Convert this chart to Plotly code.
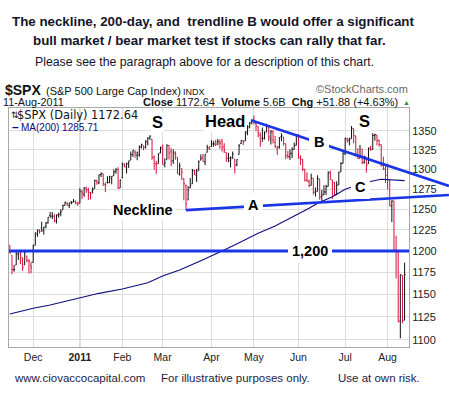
import math
import pandas as pd
import plotly.graph_objects as go

# ---------------- data ----------------
holidays = ["2010-11-25", "2010-12-24", "2011-01-17", "2011-02-21",
            "2011-04-22", "2011-05-30", "2011-07-04"]
dates = [d.strftime("%Y-%m-%d") for d in pd.bdate_range("2010-11-15", "2011-08-11")
         if d.strftime("%Y-%m-%d") not in holidays]

opens = [
    1200.44, 1194.79, 1178.33, 1183.75, 1196.12, 1198.07, 1192.51, 1183.70, 1194.16, 1189.08, 1182.96,
    1186.60, 1206.81, 1219.93, 1223.87, 1227.25, 1225.02, 1230.14, 1233.85, 1242.52, 1241.84, 1241.58,
    1236.34, 1243.63, 1245.76, 1249.43, 1254.94, 1257.53, 1254.66, 1259.10, 1258.78, 1259.44, 1256.76,
    1257.62, 1272.95, 1268.78, 1276.29, 1274.41, 1270.84, 1272.58, 1275.65, 1285.78, 1282.90, 1293.22,
    1294.52, 1280.85, 1283.63, 1283.29, 1288.17, 1291.97, 1297.51, 1299.63, 1276.50,
    1289.14, 1305.91, 1302.77, 1307.01, 1311.85, 1318.76, 1322.48, 1318.13, 1318.66, 1328.73, 1330.43,
    1328.98, 1334.37, 1340.38, 1338.91, 1315.44, 1307.09, 1307.34, 1321.61,
    1328.64, 1305.47, 1312.37, 1330.73, 1322.72, 1311.05, 1319.92, 1315.72, 1293.43, 1301.19, 1288.46,
    1279.46, 1261.61, 1276.71, 1281.65, 1298.29, 1292.19, 1300.61, 1311.80, 1315.45, 1309.37, 1321.89, 1327.44,
    1329.48, 1333.56, 1332.03, 1335.94, 1334.82, 1336.16, 1329.01, 1321.96, 1314.03, 1311.13, 1314.54,
    1313.35, 1305.99, 1319.12, 1333.23, 1337.14, 1336.75, 1348.43, 1353.86, 1360.14,
    1365.21, 1359.76, 1355.90, 1344.16, 1340.24, 1340.20, 1348.34, 1354.51, 1339.39, 1348.69, 1334.77,
    1326.10, 1328.54, 1342.40, 1342.00, 1333.07, 1317.70, 1316.36, 1320.64, 1325.69, 1331.10,
    1345.20, 1314.55, 1312.94, 1300.26, 1286.31, 1284.63, 1279.63, 1288.60, 1271.31, 1272.22, 1287.87,
    1265.53, 1268.58, 1271.50, 1278.40, 1295.48, 1286.60, 1283.04, 1268.44, 1280.21, 1296.85, 1307.64,
    1320.64, 1339.59, 1337.56, 1339.62, 1352.96, 1343.31, 1319.61, 1314.45, 1317.74, 1308.87, 1315.94,
    1307.07, 1328.66, 1325.65, 1343.80, 1344.32, 1337.39, 1331.91, 1304.84, 1300.12,
    1292.59, 1286.56, 1254.25, 1260.23, 1200.28, 1198.48, 1120.23, 1171.77, 1121.30,
]
highs = [
    1207.43, 1194.79, 1183.56, 1200.29, 1199.97, 1198.94, 1192.51, 1198.62, 1194.16, 1190.34, 1187.40,
    1207.61, 1221.89, 1225.57, 1225.80, 1235.05, 1228.93, 1234.71, 1240.40, 1246.73, 1246.59, 1244.25,
    1243.75, 1245.81, 1250.20, 1255.82, 1259.39, 1258.59, 1258.43, 1259.90, 1262.60, 1261.09, 1259.34,
    1276.17, 1274.12, 1277.63, 1278.17, 1276.83, 1271.52, 1277.25, 1286.87, 1286.70, 1293.24, 1296.06,
    1294.60, 1283.35, 1291.21, 1291.93, 1291.26, 1299.74, 1301.63, 1302.67, 1287.17,
    1308.86, 1307.61, 1308.60, 1311.00, 1322.85, 1324.87, 1324.54, 1322.78, 1330.79, 1332.96, 1330.43,
    1337.61, 1341.50, 1344.07, 1338.91, 1317.91, 1310.91, 1320.61, 1329.38,
    1332.09, 1314.19, 1332.28, 1331.08, 1327.68, 1325.74, 1323.21, 1315.72, 1308.35, 1301.19, 1288.46,
    1280.91, 1278.88, 1288.88, 1300.58, 1299.35, 1300.51, 1311.34, 1319.18, 1319.74, 1319.45, 1331.74, 1329.77,
    1337.85, 1336.74, 1338.21, 1339.38, 1338.80, 1339.46, 1333.77, 1321.96, 1321.35, 1316.79, 1322.88,
    1313.35, 1312.70, 1332.66, 1337.49, 1337.55, 1349.55, 1357.49, 1361.71, 1364.56,
    1370.58, 1360.84, 1355.90, 1348.00, 1354.36, 1349.44, 1359.44, 1354.51, 1351.05, 1350.47, 1343.33,
    1330.42, 1341.82, 1346.82, 1342.00, 1333.07, 1323.72, 1325.86, 1328.51, 1334.62, 1345.20,
    1345.20, 1318.03, 1312.94, 1300.26, 1296.22, 1287.04, 1294.54, 1288.60, 1277.04, 1292.50, 1287.87,
    1274.11, 1279.82, 1280.42, 1297.62, 1298.61, 1286.60, 1283.93, 1284.91, 1296.80, 1309.21, 1321.97,
    1341.01, 1340.89, 1340.94, 1356.48, 1352.96, 1343.31, 1327.17, 1331.48, 1326.88, 1317.70, 1315.94,
    1328.14, 1330.43, 1347.00, 1346.10, 1344.32, 1338.51, 1331.91, 1316.32, 1304.16,
    1307.38, 1286.56, 1261.20, 1260.23, 1218.11, 1198.48, 1172.88, 1171.77, 1186.29,
]
lows = [
    1197.15, 1173.00, 1175.82, 1183.75, 1189.44, 1184.58, 1176.91, 1183.70, 1186.93, 1173.64, 1174.14,
    1186.60, 1206.81, 1216.82, 1220.67, 1223.25, 1219.50, 1226.85, 1232.58, 1240.34, 1238.17, 1234.01,
    1232.85, 1239.87, 1241.51, 1249.43, 1254.94, 1254.05, 1251.48, 1256.22, 1258.78, 1256.32, 1254.19,
    1257.62, 1262.66, 1265.36, 1270.43, 1261.70, 1262.18, 1269.62, 1275.65, 1280.47, 1281.24, 1290.16,
    1278.92, 1271.26, 1282.07, 1282.47, 1281.07, 1291.97, 1294.42, 1275.10, 1276.50,
    1289.14, 1302.62, 1294.83, 1301.67, 1311.85, 1316.03, 1314.89, 1311.74, 1316.08, 1326.90, 1324.61,
    1326.69, 1331.00, 1338.12, 1312.33, 1299.55, 1294.26, 1307.34, 1320.55,
    1306.14, 1302.58, 1312.37, 1312.59, 1303.99, 1306.86, 1312.27, 1294.21, 1291.99, 1286.37, 1261.12,
    1249.05, 1261.61, 1276.18, 1281.65, 1292.70, 1284.05, 1297.74, 1311.80, 1310.19, 1305.26, 1321.89, 1325.03,
    1328.89, 1329.10, 1330.03, 1331.09, 1326.56, 1322.94, 1321.06, 1309.51, 1309.19, 1302.42, 1313.68,
    1294.70, 1303.97, 1319.12, 1332.83, 1331.47, 1336.75, 1344.25, 1353.60, 1358.69,
    1358.59, 1349.52, 1341.50, 1329.17, 1335.58, 1338.64, 1348.34, 1336.36, 1332.03, 1333.36, 1327.32,
    1318.51, 1326.59, 1336.36, 1330.67, 1312.88, 1313.87, 1311.80, 1314.41, 1325.69, 1331.10,
    1313.71, 1305.61, 1297.90, 1284.72, 1284.74, 1277.42, 1279.63, 1268.28, 1265.64, 1272.22, 1261.90,
    1258.07, 1267.40, 1267.56, 1278.40, 1286.79, 1262.87, 1267.24, 1267.53, 1280.21, 1296.85, 1307.64,
    1318.18, 1334.30, 1330.92, 1339.62, 1333.71, 1316.42, 1313.33, 1314.45, 1306.51, 1307.35, 1295.92,
    1307.07, 1323.65, 1325.65, 1336.95, 1331.09, 1329.10, 1303.49, 1299.16, 1282.86,
    1274.73, 1254.03, 1234.56, 1199.54, 1168.09, 1119.28, 1101.54, 1118.01, 1121.30,
]
closes = [
    1197.75, 1178.34, 1178.59, 1196.69, 1199.73, 1197.84, 1180.73, 1198.35, 1189.40, 1187.76, 1180.55,
    1206.07, 1221.53, 1224.71, 1223.12, 1223.75, 1228.28, 1233.00, 1240.40, 1240.46, 1241.59, 1235.23,
    1242.87, 1243.91, 1247.08, 1254.60, 1258.84, 1256.77, 1257.54, 1258.51, 1259.78, 1257.88, 1257.64,
    1271.87, 1270.20, 1276.56, 1273.85, 1271.50, 1269.75, 1274.48, 1285.96, 1283.76, 1293.24, 1295.02,
    1281.92, 1280.26, 1283.35, 1290.84, 1291.18, 1296.63, 1299.54, 1276.34, 1286.12,
    1307.59, 1304.03, 1307.10, 1310.87, 1319.05, 1324.57, 1320.88, 1321.87, 1329.15, 1332.32, 1328.01,
    1336.32, 1340.43, 1343.01, 1315.44, 1307.40, 1306.10, 1319.88, 1327.22,
    1306.33, 1308.44, 1330.97, 1321.15, 1310.13, 1321.82, 1320.02, 1295.11, 1304.28, 1296.39, 1281.87,
    1256.88, 1273.72, 1279.21, 1298.38, 1293.77, 1297.54, 1309.66, 1313.80, 1310.19, 1319.44, 1328.26, 1325.83,
    1332.41, 1332.87, 1332.63, 1335.54, 1333.51, 1328.17, 1324.46, 1314.16, 1314.41, 1314.52, 1319.68,
    1305.14, 1312.62, 1330.36, 1337.38, 1335.25, 1347.24, 1355.66, 1360.48, 1363.61,
    1361.22, 1356.62, 1347.32, 1335.10, 1340.20, 1346.29, 1357.16, 1342.08, 1348.65, 1337.77, 1329.47,
    1328.98, 1340.68, 1343.60, 1333.27, 1317.37, 1316.28, 1320.47, 1325.69, 1331.10, 1345.20,
    1314.55, 1312.94, 1300.16, 1286.17, 1284.94, 1279.56, 1289.00, 1270.98, 1271.83, 1287.87, 1265.42,
    1267.64, 1271.50, 1278.36, 1295.52, 1287.14, 1283.50, 1268.45, 1280.10, 1296.67, 1307.41, 1320.64,
    1339.67, 1337.88, 1339.22, 1353.22, 1343.80, 1319.49, 1313.64, 1317.72, 1308.87, 1316.14, 1305.44,
    1326.73, 1325.84, 1343.80, 1345.02, 1337.43, 1331.94, 1304.89, 1300.67, 1292.28,
    1286.94, 1254.05, 1260.34, 1200.07, 1199.38, 1119.46, 1172.53, 1120.76, 1172.64,
]
prev_close = 1199.21  # close before the first bar (sets the first bar's colour)

ma_dates = ["2010-11-15", "2010-12-01", "2010-12-13", "2011-01-03", "2011-01-14", "2011-02-01",
            "2011-02-17", "2011-03-01", "2011-03-11", "2011-03-25", "2011-04-01", "2011-04-11",
            "2011-04-21", "2011-05-04", "2011-05-16", "2011-05-26", "2011-06-08", "2011-06-14",
            "2011-06-23", "2011-07-01", "2011-07-15", "2011-07-27", "2011-08-04", "2011-08-11"]
ma_values = [1128.1, 1134.4, 1138.1, 1145.6, 1151.2, 1156.1,
             1163.3, 1170.9, 1177.8, 1188.6, 1194.1, 1201.2,
             1211.0, 1221.0, 1229.8, 1240.3, 1251.3, 1257.5,
             1265.6, 1274.8, 1283.1, 1287.4, 1286.5, 1285.71]

month_tick_dates = ["2010-12-01", "2011-01-03", "2011-02-01", "2011-03-01", "2011-04-01",
                    "2011-05-02", "2011-06-01", "2011-07-01", "2011-08-01"]
month_tick_labels = ["Dec", "<b>2011</b>", "Feb", "Mar", "Apr", "May", "Jun", "Jul", "Aug"]
price_ticks = [1100, 1125, 1150, 1175, 1200, 1225, 1250, 1275, 1300, 1325, 1350]

# hand-drawn trendlines: (trading-day position, price)
trend_b_pos = [113.6, 206.9]
trend_b_price = [1364, 1279]
neckline_pos = [83, 206.9]
neckline_price = [1249.05, 1267.7]
level_1200 = 1200

# ---------------- figure ----------------
W, H = 449, 399
ML, MR, MT, MB = 9, 0, 108, 52
PW, PH = W - ML - MR, H - MT - MB
MAIN_W = 400

def px(x):
    return (x - ML) / PW

def py(y):
    return (H - MB - y) / PH

x_idx = list(range(len(dates)))
pos = {d: i for i, d in enumerate(dates)}
RED, BLACK, BLUE, NAVY = "#d8103a", "#111111", "#1a35e6", "#0d0d80"

fig = go.Figure()
prevs = [prev_close] + closes[:-1]
for col, cond in ((BLACK, lambda c, p: c >= p), (RED, lambda c, p: c < p)):
    sel = [i for i in x_idx if cond(closes[i], prevs[i])]
    fig.add_trace(go.Ohlc(
        x=sel, open=[opens[i] for i in sel], high=[highs[i] for i in sel],
        low=[lows[i] for i in sel], close=[closes[i] for i in sel],
        increasing=dict(line=dict(color=col, width=1)),
        decreasing=dict(line=dict(color=col, width=1)),
        tickwidth=0.45, hoverinfo="skip", showlegend=False))

fig.add_trace(go.Scatter(x=[pos[d] for d in ma_dates], y=ma_values, mode="lines",
                         line=dict(color=NAVY, width=1.1), hoverinfo="skip", showlegend=False))

for xs, ys in ((trend_b_pos, trend_b_price), (neckline_pos, neckline_price)):
    fig.add_trace(go.Scatter(x=xs, y=ys, mode="lines", xaxis="x2", yaxis="y2",
                             line=dict(color=BLUE, width=2.6), hoverinfo="skip", showlegend=False))

fig.add_shape(type="line", xref="x domain", x0=0, x1=1, yref="y", y0=level_1200, y1=level_1200,
              line=dict(color=BLUE, width=3))
fig.add_shape(type="line", xref="x", x0=pos["2011-01-03"], x1=pos["2011-01-03"],
              yref="y domain", y0=0, y1=1, line=dict(color="#b2b2b2", width=1), layer="below")

x_range = [-0.4, -0.4 + MAIN_W / 2.1222]
x2_range = [-0.4, -0.4 + PW / 2.1222]
y_range = [math.log10(1092.2), math.log10(1380.6)]

FONT = "Liberation Sans, Arial, sans-serif"
fig.update_layout(
    width=W, height=H, margin=dict(l=ML, r=MR, t=MT, b=MB, pad=0),
    paper_bgcolor="white", plot_bgcolor="rgba(0,0,0,0)",
    showlegend=False, hovermode=False,
    font=dict(family=FONT, color="#222222"),
    xaxis=dict(domain=[0, MAIN_W / PW], range=x_range, type="linear",
               tickvals=[pos[d] for d in month_tick_dates], ticktext=month_tick_labels,
               showgrid=True, gridcolor="#dddddd", gridwidth=1, zeroline=False,
               showline=True, mirror=True, linecolor="#a8a8a8", linewidth=1, ticks="",
               tickfont=dict(size=10.5, family=FONT, color="#222222"),
               rangeslider=dict(visible=False), fixedrange=True),
    yaxis=dict(type="log", range=y_range, side="right", tickvals=price_ticks,
               ticktext=[str(v) for v in price_ticks],
               showgrid=True, gridcolor="#dddddd", gridwidth=1, zeroline=False,
               showline=True, mirror=True, linecolor="#a8a8a8", linewidth=1, ticks="",
               tickfont=dict(size=11, family=FONT, color="#222222"), fixedrange=True),
    xaxis2=dict(domain=[0, 1], range=x2_range, anchor="y2", visible=False, fixedrange=True),
    yaxis2=dict(domain=[0, 1], type="log", range=y_range, anchor="x2", visible=False, fixedrange=True),
)

ann = []

def add_text(text, x, y, size, xanchor="center", bold=False, color="#111111",
             family=FONT, bg=None, pad=0):
    ann.append(dict(text=f"<b>{text}</b>" if bold else text, x=px(x), y=py(y),
                    xref="paper", yref="paper", xanchor=xanchor, yanchor="middle",
                    showarrow=False, font=dict(size=size, color=color, family=family),
                    bgcolor=bg, borderpad=pad, borderwidth=0))

# title block
add_text("The neckline, 200-day, and\u00a0 trendline B would offer a significant", 213, 21.4, 13.33, bold=True, color="#14142a")
add_text("bull market / bear market test if stocks can rally that far.", 209, 40.4, 13.33, bold=True, color="#14142a")
add_text("Please see the paragraph above for a description of this chart.", 204, 62.4, 12.3, color="#14142a")

# chart header
add_text("$SPX", 5, 90, 14, xanchor="left", bold=True)
add_text("(S&P 500 Large Cap Index)", 46, 91, 11, xanchor="left")
add_text("INDX", 183, 91.8, 9, xanchor="left")
add_text("\u00a9StockCharts.com", 408, 89.2, 11, xanchor="right", color="#666666")
add_text("11-Aug-2011", 3, 102, 10.8, xanchor="left")
add_text("<b>Close</b> 1172.64  <b>Volume</b> 5.6B  <b>Chg</b> +51.88 (+4.63%)", 398, 102, 11, xanchor="right")
add_text("\u25b2", 406, 102.5, 7, color="#2e8b3a")

# in-chart legend
add_text("\u21c5", 11, 114.5, 9, xanchor="left", family="DejaVu Sans")
add_text("$SPX (Daily) 1172.64", 17, 114.5, 11.4, xanchor="left", family="DejaVu Sans")
add_text("<b>\u2013</b>", 12, 126.7, 12, xanchor="left", color=NAVY)
add_text("MA(200) 1285.71", 21, 127, 10, xanchor="left", color=NAVY)

# pattern labels
add_text("S", 157, 122.3, 16.5, bold=True, color="#000000", bg="white", pad=1)
add_text("Head", 225, 121.3, 16.5, bold=True, color="#000000", bg="white", pad=1)
add_text("S", 364.5, 121.3, 16.5, bold=True, color="#000000", bg="white", pad=1)
add_text("B", 319, 142.1, 14.5, bold=True, color="#000000", bg="white", pad=5)
add_text("C", 360, 187.1, 14.5, bold=True, color="#000000", bg="white", pad=4)
add_text("A", 253, 205.1, 14.5, bold=True, color="#000000", bg="white", pad=4)
add_text("Neckline", 142.5, 210, 14.5, bold=True, color="#000000", bg="white", pad=2)
add_text("1,200", 310, 250.5, 14.5, bold=True, color="#000000", bg="white", pad=4)

# footer
add_text("www.ciovaccocapital.com", 14, 377.5, 11.5, xanchor="left", color="#1c1c40")
add_text("For illustrative purposes only.", 161, 377.5, 11.5, xanchor="left", color="#1c1c40")
add_text("Use at own risk.", 338, 377.5, 11.5, xanchor="left", color="#1c1c40")

fig.update_layout(annotations=ann)
fig.write_html("out.html", config={"displayModeBar": False},
               post_script="document.body.style.margin='0px';document.body.style.padding='0px';")
